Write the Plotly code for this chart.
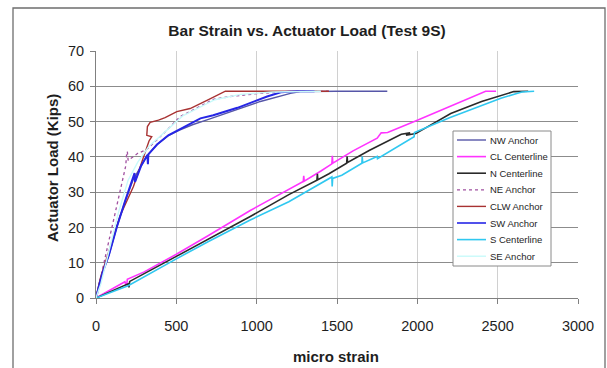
import plotly.graph_objects as go

# ---------------- data (micro strain, kips) ----------------
nw_x = [0, 20, 40, 80, 130, 180, 230, 280, 320, 380, 450, 520, 600, 700, 855, 1023, 1210, 1272, 1500, 1813]
nw_y = [0, 4.3, 7.1, 12.1, 20.2, 27.3, 33.4, 37.4, 40.5, 43.5, 46, 47.6, 49.1, 50.6, 53.1, 55.7, 58.0, 58.5, 58.6, 58.6]

cl_x = [0, 100, 180, 190, 195, 300, 500, 700, 960, 1100, 1290, 1293, 1296, 1400, 1468, 1471, 1474, 1600, 1750, 1775, 1815, 2000, 2200, 2395, 2425, 2490]
cl_y = [0, 2.5, 4.6, 3.2, 5.3, 7.4, 12.4, 17.7, 24.8, 28.3, 33, 34.6, 33.1, 36, 38, 40.3, 38.2, 41.7, 45.3, 46.8, 46.9, 50.4, 54.3, 58.0, 58.6, 58.6]

n_x = [0, 200, 205, 210, 500, 700, 960, 1200, 1375, 1378, 1381, 1450, 1560, 1563, 1566, 1700, 1875, 1900, 1955, 1930, 1990, 2208, 2400, 2600, 2690]
n_y = [0, 4, 3, 4.7, 11.8, 16.7, 23.1, 29.3, 33.4, 35.2, 33.5, 35.2, 38.2, 40.1, 38.4, 41.8, 45.7, 46.4, 46.8, 46.1, 46.6, 52.3, 55.7, 58.5, 58.6]

ne_x = [0, 12, 60, 120, 168, 185, 191, 195, 200, 260, 316, 420, 524, 731, 836, 1000, 1200, 1447]
ne_y = [0, 2.2, 12.1, 24.3, 33.4, 37.4, 41, 41.5, 39, 41, 42.1, 46.6, 51.4, 56.3, 57.1, 57.9, 58.5, 58.6]

clw_x = [0, 30, 80, 150, 233, 295, 330, 347, 316, 320, 337, 389, 430, 503, 586, 700, 805, 1085, 1450]
clw_y = [0, 6.1, 13.2, 23.3, 31.6, 40.1, 44.5, 45.7, 46.1, 48.6, 49.8, 50.4, 51.1, 52.8, 53.7, 56.2, 58.6, 58.6, 58.6]

sw_x = [0, 20, 40, 80, 130, 180, 231, 240, 243, 280, 320, 323, 326, 380, 450, 550, 650, 730, 880, 1065, 1150, 1250, 1360]
sw_y = [0, 4, 7.1, 12.1, 20.2, 27.3, 33.9, 35.4, 32.9, 37.4, 40.5, 37.9, 40.7, 43.5, 46.1, 48.6, 50.9, 51.8, 53.9, 57.1, 58.3, 58.6, 58.6]

s_x = [0, 200, 500, 700, 960, 1200, 1468, 1470, 1473, 1530, 1655, 1657, 1660, 1750, 1752, 1980, 1982, 2200, 2520, 2650, 2727]
s_y = [0, 3.5, 11.1, 16, 22.1, 27.3, 34.3, 31.6, 33.9, 34.8, 38.2, 40.1, 38.3, 40.1, 39.5, 45.7, 46.9, 51.1, 56.6, 58.4, 58.6]

se_x = [0, 30, 80, 140, 200, 260, 330, 430, 540, 740, 900, 1100, 1400]
se_y = [0, 4, 13.2, 24.3, 33.4, 38.5, 43, 47.1, 51.6, 56.2, 57.7, 58.4, 58.6]

names = ["NW Anchor", "CL Centerline", "N Centerline", "NE Anchor",
         "CLW Anchor", "SW Anchor", "S Centerline", "SE Anchor"]
xs = [nw_x, cl_x, n_x, ne_x, clw_x, sw_x, s_x, se_x]
ys = [nw_y, cl_y, n_y, ne_y, clw_y, sw_y, s_y, se_y]
colors = ["#5656A8", "#FF33FF", "#2A2A2A", "#A050A0",
          "#A83232", "#2626E6", "#30C8F0", "#C8FAFA"]
widths = [1.4, 1.6, 1.6, 1.3, 1.4, 2.0, 1.6, 1.4]
dashes = ["solid", "solid", "solid", "dot", "solid", "solid", "solid", "solid"]

xticks = [0, 500, 1000, 1500, 2000, 2500, 3000]
yticks = [0, 10, 20, 30, 40, 50, 60, 70]

FONT = "Arial, Liberation Sans, sans-serif"
TXT = "#1e1e1e"

W, H = 607, 368
L, R, T, B = 96, 578, 51, 298

def px(xp):
    return (xp - L) / (R - L)

def py(yp):
    return (B - yp) / (B - T)

fig = go.Figure()
for nm, x, y, c, w, d in zip(names, xs, ys, colors, widths, dashes):
    fig.add_trace(go.Scatter(x=x, y=y, name=nm, mode="lines", showlegend=False,
                             line=dict(color=c, width=w, dash=d)))

# legend drawn as box + samples + text
shapes = [
    dict(type="rect", xref="paper", yref="paper",
         x0=px(13), x1=px(605), y0=py(420), y1=py(8),
         line=dict(color="#6E6E6E", width=1.3), fillcolor="rgba(0,0,0,0)", layer="below"),
    dict(type="rect", xref="paper", yref="paper",
         x0=px(453), x1=px(551), y0=py(266), y1=py(131),
         line=dict(color="#8A8A8A", width=1), fillcolor="white", layer="above"),
]
annotations = []
for i, (nm, c, w, d) in enumerate(zip(names, colors, widths, dashes)):
    yc = 140 + i * 16.6
    shapes.append(dict(type="line", xref="paper", yref="paper",
                       x0=px(457), x1=px(486), y0=py(yc), y1=py(yc),
                       line=dict(color=c, width=min(w, 1.6), dash=d), layer="above"))
    annotations.append(dict(text=nm, xref="paper", yref="paper",
                            x=px(488), y=py(yc), xanchor="left", yanchor="middle",
                            showarrow=False, font=dict(size=9.5, family=FONT, color=TXT)))

annotations += [
    dict(text="<b>micro strain</b>", xref="paper", yref="paper",
         x=px(336), y=py(356), xanchor="center", yanchor="middle",
         showarrow=False, font=dict(size=15, family=FONT, color=TXT)),
    dict(text="<b>Actuator Load (Kips)</b>", xref="paper", yref="paper",
         x=px(52), y=py(168), xanchor="center", yanchor="middle", textangle=-90,
         showarrow=False, font=dict(size=15, family=FONT, color=TXT)),
]

fig.update_layout(
    width=W, height=H,
    margin=dict(l=L, r=W - R, t=T, b=H - B),
    paper_bgcolor="white", plot_bgcolor="white",
    font=dict(family=FONT, size=14, color=TXT),
    showlegend=False,
    title=dict(text="<b>Bar Strain vs. Actuator Load (Test 9S)</b>",
               font=dict(size=15.5, family=FONT, color=TXT),
               x=307 / W, xref="container", xanchor="center",
               y=1 - 31 / H, yref="container", yanchor="middle"),
    xaxis=dict(range=[0, 3000], tickvals=xticks, ticktext=[str(v) for v in xticks],
               showgrid=True, gridcolor="#D0D0D0", gridwidth=1,
               showline=True, linecolor="#808080", linewidth=1,
               ticks="outside", ticklen=5, tickcolor="#808080",
               ticklabelstandoff=10,
               zeroline=False, tickfont=dict(size=14.5, family=FONT, color=TXT)),
    yaxis=dict(range=[0, 70], tickvals=yticks, ticktext=[str(v) for v in yticks],
               showgrid=True, gridcolor="#8C8C8C", gridwidth=1,
               showline=True, linecolor="#808080", linewidth=1,
               ticks="outside", ticklen=5, tickcolor="#808080",
               ticklabelstandoff=3,
               zeroline=False, tickfont=dict(size=14.5, family=FONT, color=TXT)),
    annotations=annotations,
    shapes=shapes,
)

fig.write_html("out.html", config={"displayModeBar": False},
               post_script="document.body.style.margin='0px';document.body.style.overflow='hidden';")
